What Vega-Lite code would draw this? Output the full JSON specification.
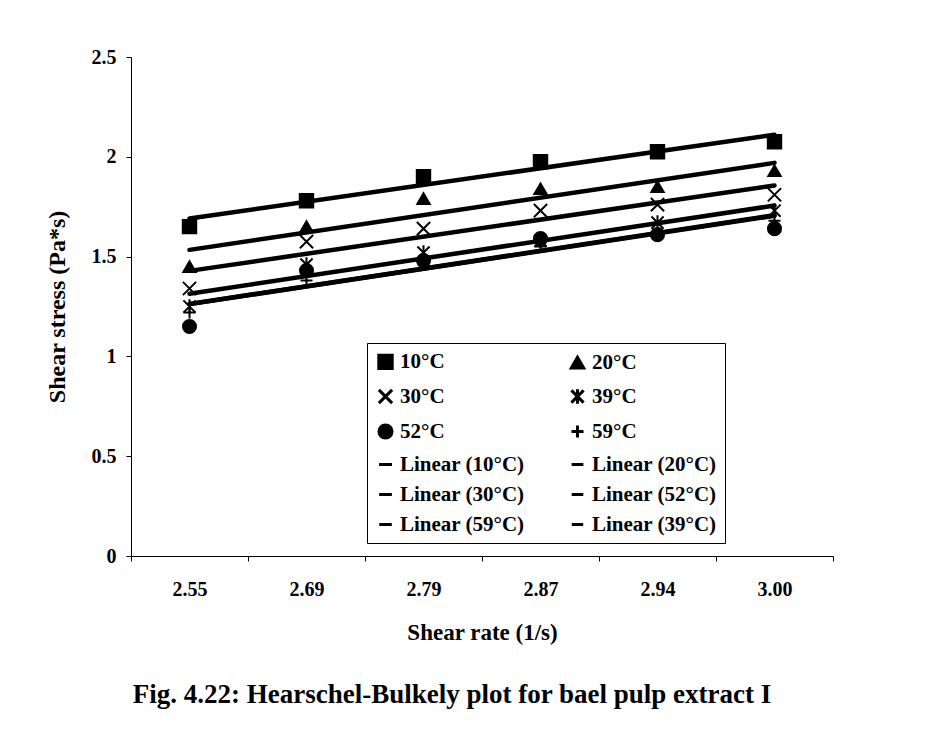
{
  "$schema": "https://vega.github.io/schema/vega-lite/v6.json",
  "width": 702,
  "height": 499,
  "autosize": "none",
  "padding": {"left": 131, "top": 57, "right": 107, "bottom": 186},
  "background": "white",
  "config": {
    "view": {"stroke": null},
    "font": "Liberation Serif"
  },
  "title": {
    "text": "Fig. 4.22: Hearschel-Bulkely plot for bael pulp extract I",
    "orient": "bottom",
    "anchor": "middle",
    "font": "Liberation Serif",
    "fontSize": 27,
    "fontWeight": "bold",
    "color": "black",
    "offset": 38,
    "dx": -30
  },
  "data": {
    "values": [
      {"rate": 2.55, "series": "10°C", "stress": 1.65},
      {"rate": 2.69, "series": "10°C", "stress": 1.78},
      {"rate": 2.79, "series": "10°C", "stress": 1.90},
      {"rate": 2.87, "series": "10°C", "stress": 1.975},
      {"rate": 2.94, "series": "10°C", "stress": 2.025},
      {"rate": 3.00, "series": "10°C", "stress": 2.075},
      {"rate": 2.55, "series": "20°C", "stress": 1.45},
      {"rate": 2.69, "series": "20°C", "stress": 1.65},
      {"rate": 2.79, "series": "20°C", "stress": 1.79},
      {"rate": 2.87, "series": "20°C", "stress": 1.84},
      {"rate": 2.94, "series": "20°C", "stress": 1.85},
      {"rate": 3.00, "series": "20°C", "stress": 1.93},
      {"rate": 2.55, "series": "30°C", "stress": 1.34},
      {"rate": 2.69, "series": "30°C", "stress": 1.575},
      {"rate": 2.79, "series": "30°C", "stress": 1.64},
      {"rate": 2.87, "series": "30°C", "stress": 1.73},
      {"rate": 2.94, "series": "30°C", "stress": 1.76},
      {"rate": 3.00, "series": "30°C", "stress": 1.81},
      {"rate": 2.55, "series": "39°C", "stress": 1.25},
      {"rate": 2.69, "series": "39°C", "stress": 1.46},
      {"rate": 2.79, "series": "39°C", "stress": 1.52},
      {"rate": 2.87, "series": "39°C", "stress": 1.58},
      {"rate": 2.94, "series": "39°C", "stress": 1.67},
      {"rate": 3.00, "series": "39°C", "stress": 1.73},
      {"rate": 2.55, "series": "52°C", "stress": 1.15},
      {"rate": 2.69, "series": "52°C", "stress": 1.43},
      {"rate": 2.79, "series": "52°C", "stress": 1.48},
      {"rate": 2.87, "series": "52°C", "stress": 1.59},
      {"rate": 2.94, "series": "52°C", "stress": 1.61},
      {"rate": 3.00, "series": "52°C", "stress": 1.64},
      {"rate": 2.55, "series": "59°C", "stress": 1.22},
      {"rate": 2.69, "series": "59°C", "stress": 1.38},
      {"rate": 2.79, "series": "59°C", "stress": 1.46},
      {"rate": 2.87, "series": "59°C", "stress": 1.55},
      {"rate": 2.94, "series": "59°C", "stress": 1.62},
      {"rate": 3.00, "series": "59°C", "stress": 1.68}
    ]
  },
  "transform": [
    {"window": [{"op": "dense_rank", "as": "idx"}], "sort": [{"field": "rate"}]}
  ],
  "encoding": {
    "x": {
      "field": "idx",
      "type": "quantitative",
      "scale": {"domain": [0.5, 6.5], "nice": false, "zero": false},
      "axis": {
        "title": "Shear rate (1/s)",
        "values": [0.5, 1.5, 2.5, 3.5, 4.5, 5.5, 6.5],
        "labelExpr": "['2.55','2.69','2.79','2.87','2.94','3.00',''][floor(datum.value)]",
        "labelOffset": 58.5,
        "grid": false,
        "domainColor": "black",
        "tickColor": "black",
        "tickSize": 5,
        "labelFont": "Liberation Serif",
        "labelFontWeight": "bold",
        "labelFontSize": 20,
        "labelColor": "black",
        "labelPadding": 18,
        "labelFlush": false,
        "labelOverlap": false,
        "titleFont": "Liberation Serif",
        "titleFontWeight": "bold",
        "titleFontSize": 23,
        "titleColor": "black",
        "titlePadding": 22
      }
    },
    "y": {
      "field": "stress",
      "type": "quantitative",
      "scale": {"domain": [0, 2.5], "nice": false},
      "axis": {
        "title": "Shear stress (Pa*s)",
        "values": [0, 0.5, 1, 1.5, 2, 2.5],
        "format": "~g",
        "grid": false,
        "domainColor": "black",
        "tickColor": "black",
        "tickSize": 5,
        "labelFont": "Liberation Serif",
        "labelFontWeight": "bold",
        "labelFontSize": 20,
        "labelColor": "black",
        "labelPadding": 10,
        "titleFont": "Liberation Serif",
        "titleFontWeight": "bold",
        "titleFontSize": 24,
        "titleColor": "black",
        "titlePadding": 22
      }
    }
  },
  "layer": [
    {
      "transform": [
        {"regression": "stress", "on": "idx", "groupby": ["series"], "method": "linear"}
      ],
      "mark": {"type": "line", "color": "black", "strokeWidth": 4.5, "strokeCap": "round"},
      "encoding": {
        "detail": {"field": "series", "type": "nominal"}
      }
    },
    {
      "mark": {"type": "point", "filled": true, "fill": "black", "stroke": "black", "opacity": 1},
      "encoding": {
        "shape": {
          "field": "series",
          "type": "nominal",
          "scale": {
            "domain": ["10°C", "30°C", "52°C", "Linear (10°C)", "Linear (30°C)", "Linear (59°C)", "20°C", "39°C", "59°C", "Linear (20°C)", "Linear (52°C)", "Linear (39°C)"],
            "range": ["square", "M-1,-1L1,1M-1,1L1,-1", "circle", "M-1,0L1,0", "M-1,0L1,0", "M-1,0L1,0", "triangle-up", "M-1,-1L1,1M-1,1L1,-1M0,-1.2L0,1.2", "M-1,0L1,0M0,-1L0,1", "M-1,0L1,0", "M-1,0L1,0", "M-1,0L1,0"]
          },
          "legend": {
            "title": null,
            "orient": "none",
            "legendX": 236,
            "legendY": 286,
            "columns": 2,
            "columnPadding": 40,
            "rowPadding": 8,
            "padding": 8,
            "strokeColor": "black",
            "fillColor": "white",
            "labelFont": "Liberation Serif",
            "labelFontWeight": "bold",
            "labelFontSize": 21,
            "labelColor": "black",
            "labelLimit": 300,
            "labelOffset": 4,
            "symbolFillColor": "black",
            "symbolStrokeColor": "black",
            "symbolStrokeWidth": 3
          }
        },
        "size": {
          "field": "series",
          "type": "nominal",
          "scale": {
            "domain": ["10°C", "30°C", "52°C", "Linear (10°C)", "Linear (30°C)", "Linear (59°C)", "20°C", "39°C", "59°C", "Linear (20°C)", "Linear (52°C)", "Linear (39°C)"],
            "range": [180, 130, 180, 400, 400, 400, 200, 140, 120, 400, 400, 400]
          }
        },
        "strokeWidth": {"value": 2}
      }
    }
  ]
}
